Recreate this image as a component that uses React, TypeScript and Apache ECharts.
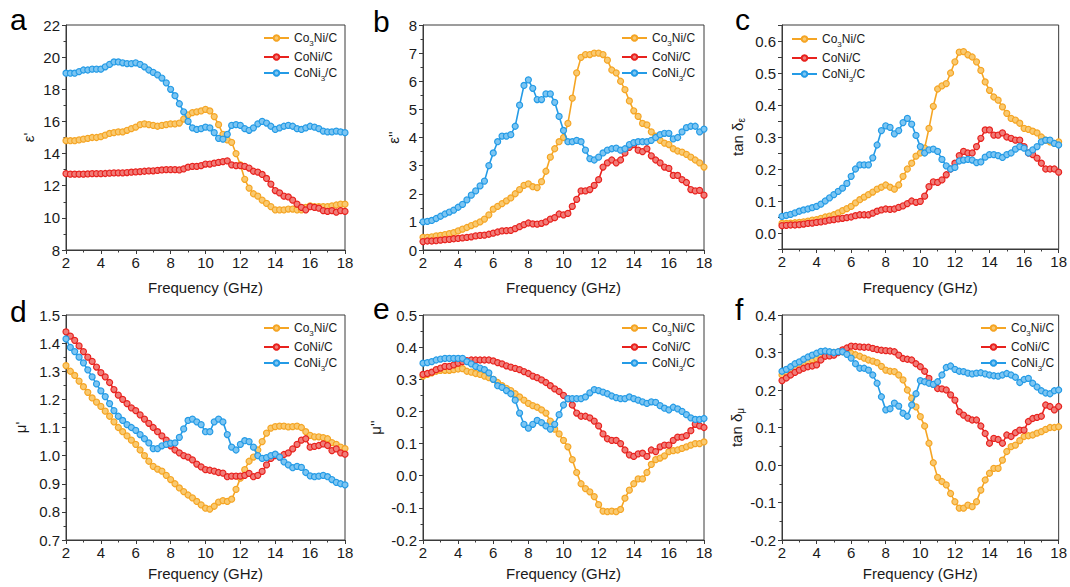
import React, { useEffect, useRef } from 'react';
import * as echarts from 'echarts';

const FREQ = [2, 2.25, 2.5, 2.75, 3, 3.25, 3.5, 3.75, 4, 4.25, 4.5, 4.75, 5, 5.25, 5.5, 5.75, 6, 6.25, 6.5, 6.75, 7, 7.25, 7.5, 7.75, 8, 8.25, 8.5, 8.75, 9, 9.25, 9.5, 9.75, 10, 10.25, 10.5, 10.75, 11, 11.25, 11.5, 11.75, 12, 12.25, 12.5, 12.75, 13, 13.25, 13.5, 13.75, 14, 14.25, 14.5, 14.75, 15, 15.25, 15.5, 15.75, 16, 16.25, 16.5, 16.75, 17, 17.25, 17.5, 17.75, 18];

const SERIES_NAMES = ['Co3Ni/C', 'CoNi/C', 'CoNi3/C'];
const X_TICKS = [2, 18, 2];

// (a) epsilon'
const A_CO3NI = [14.8, 14.8, 14.8, 14.85, 14.9, 14.95, 15.0, 15.0, 15.05, 15.15, 15.25, 15.3, 15.35, 15.35, 15.45, 15.55, 15.65, 15.8, 15.85, 15.8, 15.75, 15.7, 15.75, 15.8, 15.85, 15.85, 15.9, 16.15, 16.4, 16.55, 16.6, 16.65, 16.75, 16.65, 16.3, 15.8, 15.2, 14.85, 14.7, 14.0, 13.3, 12.4, 11.85, 11.5, 11.35, 11.1, 10.9, 10.7, 10.5, 10.5, 10.5, 10.55, 10.55, 10.5, 10.5, 10.65, 10.75, 10.7, 10.7, 10.7, 10.7, 10.75, 10.8, 10.85, 10.85];
const A_CONI = [12.75, 12.72, 12.72, 12.72, 12.72, 12.73, 12.75, 12.75, 12.75, 12.76, 12.78, 12.8, 12.8, 12.8, 12.82, 12.84, 12.86, 12.88, 12.9, 12.92, 12.93, 12.95, 12.98, 13.0, 13.0, 13.0, 12.98, 13.05, 13.15, 13.2, 13.2, 13.25, 13.35, 13.35, 13.4, 13.45, 13.5, 13.55, 13.3, 13.25, 13.25, 13.2, 13.1, 12.9, 12.85, 12.7, 12.45, 12.1, 11.7, 11.55, 11.35, 11.3, 11.1, 10.85, 10.65, 10.5, 10.7, 10.65, 10.6, 10.45, 10.4, 10.45, 10.35, 10.45, 10.4];
const A_CONI3 = [19.0, 19.0, 19.0, 19.1, 19.2, 19.2, 19.25, 19.25, 19.25, 19.4, 19.55, 19.7, 19.7, 19.65, 19.6, 19.6, 19.65, 19.55, 19.4, 19.2, 19.05, 18.9, 18.7, 18.4, 18.0, 17.6, 17.1, 16.6, 16.0, 15.6, 15.5, 15.55, 15.65, 15.6, 15.3, 14.95, 14.9, 15.2, 15.75, 15.8, 15.75, 15.55, 15.45, 15.6, 15.85, 16.0, 15.9, 15.7, 15.5, 15.6, 15.7, 15.75, 15.7, 15.55, 15.5, 15.6, 15.7, 15.65, 15.55, 15.4, 15.35, 15.35, 15.4, 15.35, 15.3];

// (b) epsilon''
const B_CO3NI = [0.45, 0.45, 0.47, 0.5, 0.52, 0.55, 0.58, 0.62, 0.68, 0.74, 0.8, 0.87, 0.93, 1.0, 1.1, 1.25, 1.45, 1.55, 1.65, 1.75, 1.85, 2.0, 2.15, 2.3, 2.35, 2.25, 2.22, 2.43, 2.8, 3.3, 3.6, 3.85, 4.0, 4.5, 5.4, 6.3, 6.85, 6.95, 6.95, 7.0, 7.0, 6.95, 6.75, 6.4, 6.3, 6.0, 5.7, 5.3, 4.95, 4.75, 4.5, 4.45, 4.2, 4.05, 3.9, 3.8, 3.75, 3.6, 3.52, 3.48, 3.4, 3.3, 3.2, 3.1, 2.95];
const B_CONI = [0.3, 0.32, 0.32, 0.33, 0.35, 0.37, 0.38, 0.4, 0.41, 0.43, 0.45, 0.47, 0.5, 0.52, 0.53, 0.56, 0.6, 0.64, 0.68, 0.69, 0.7, 0.76, 0.83, 0.9, 0.96, 0.93, 0.92, 0.95, 1.0, 1.1, 1.15, 1.28, 1.25, 1.3, 1.55, 1.8, 2.1, 2.1, 2.15, 2.3, 2.5, 2.95, 3.1, 3.2, 3.1, 3.2, 3.45, 3.65, 3.75, 3.55, 3.5, 3.6, 3.35, 3.2, 3.1, 2.95, 2.9, 2.65, 2.65, 2.5, 2.4, 2.15, 2.1, 2.12, 1.95];
const B_CONI3 = [1.0, 1.02, 1.05, 1.12, 1.2, 1.28, 1.35, 1.42, 1.52, 1.62, 1.78, 1.95, 2.1, 2.28, 2.45, 3.0, 3.45, 3.85, 4.05, 4.05, 4.1, 4.4, 5.15, 5.85, 6.05, 5.75, 5.35, 5.35, 5.55, 5.55, 5.25, 4.75, 4.25, 3.85, 3.85, 3.9, 3.85, 3.55, 3.25, 3.2, 3.3, 3.45, 3.55, 3.6, 3.62, 3.55, 3.6, 3.75, 3.82, 3.85, 3.85, 3.85, 3.9, 4.0, 4.1, 4.15, 4.15, 3.95, 4.0, 4.2, 4.35, 4.4, 4.4, 4.2, 4.3];

// (c) tan delta_epsilon
const C_CO3NI = [0.03, 0.03, 0.031, 0.032, 0.033, 0.035, 0.037, 0.04, 0.042, 0.046, 0.05, 0.053, 0.057, 0.063, 0.07, 0.076, 0.083, 0.094, 0.104, 0.112, 0.12, 0.128, 0.137, 0.143, 0.15, 0.143, 0.137, 0.15, 0.177, 0.2, 0.218, 0.24, 0.25, 0.265, 0.327, 0.396, 0.45, 0.46, 0.467, 0.5, 0.535, 0.565, 0.567, 0.557, 0.55, 0.535, 0.508, 0.472, 0.446, 0.425, 0.415, 0.394, 0.374, 0.358, 0.353, 0.343, 0.327, 0.324, 0.318, 0.313, 0.3, 0.29, 0.285, 0.28, 0.285];
const C_CONI = [0.023, 0.024, 0.025, 0.025, 0.026, 0.028, 0.03, 0.031, 0.033, 0.035, 0.037, 0.04, 0.042, 0.044, 0.046, 0.048, 0.05, 0.054, 0.057, 0.057, 0.057, 0.062, 0.068, 0.072, 0.075, 0.074, 0.075, 0.08, 0.085, 0.092, 0.1, 0.096, 0.099, 0.115, 0.145, 0.16, 0.158, 0.166, 0.182, 0.2, 0.218, 0.242, 0.255, 0.25, 0.25, 0.27, 0.296, 0.322, 0.322, 0.306, 0.306, 0.313, 0.3, 0.296, 0.29, 0.29, 0.27, 0.25, 0.245, 0.234, 0.218, 0.2, 0.2, 0.2, 0.19];
const C_CONI3 = [0.052, 0.055, 0.058, 0.063, 0.068, 0.072, 0.075, 0.079, 0.083, 0.09, 0.1, 0.11, 0.12, 0.13, 0.14, 0.155, 0.177, 0.2, 0.213, 0.213, 0.213, 0.235, 0.275, 0.32, 0.335, 0.33, 0.31, 0.32, 0.345, 0.358, 0.34, 0.305, 0.27, 0.25, 0.26, 0.262, 0.255, 0.23, 0.21, 0.2, 0.205, 0.225, 0.228, 0.23, 0.228, 0.22, 0.222, 0.237, 0.245, 0.245, 0.242, 0.236, 0.245, 0.25, 0.262, 0.27, 0.265, 0.25, 0.26, 0.27, 0.285, 0.29, 0.29, 0.28, 0.275];

// (d) mu'
const D_CO3NI = [1.32, 1.3, 1.285, 1.265, 1.245, 1.225, 1.205, 1.19, 1.175, 1.158, 1.14, 1.12, 1.1, 1.085, 1.07, 1.055, 1.04, 1.02, 1.0, 0.98, 0.962, 0.952, 0.945, 0.93, 0.915, 0.9, 0.885, 0.872, 0.86, 0.85, 0.837, 0.825, 0.813, 0.81, 0.82, 0.835, 0.84, 0.837, 0.845, 0.88, 0.92, 0.95, 0.98, 0.995, 1.02, 1.05, 1.08, 1.098, 1.103, 1.105, 1.105, 1.102, 1.103, 1.105, 1.1, 1.085, 1.072, 1.067, 1.067, 1.064, 1.06, 1.046, 1.04, 1.03, 1.025];
const D_CONI = [1.44, 1.425, 1.41, 1.39, 1.37, 1.35, 1.335, 1.315, 1.295, 1.28, 1.26, 1.235, 1.215, 1.2, 1.185, 1.17, 1.16, 1.145, 1.13, 1.115, 1.1, 1.085, 1.07, 1.055, 1.035, 1.02, 1.01, 1.0, 0.995, 0.985, 0.97, 0.96, 0.95, 0.948, 0.945, 0.94, 0.938, 0.925, 0.927, 0.927, 0.927, 0.93, 0.937, 0.925, 0.93, 0.944, 0.967, 0.99, 1.0, 0.995, 1.004, 1.01, 1.024, 1.04, 1.055, 1.06, 1.03, 1.033, 1.036, 1.042, 1.036, 1.018, 1.024, 1.01, 1.005];
const D_CONI3 = [1.415, 1.385, 1.37, 1.35, 1.33, 1.305, 1.28, 1.255, 1.23, 1.21, 1.185, 1.16, 1.14, 1.125, 1.11, 1.1, 1.09, 1.075, 1.06, 1.045, 1.025, 1.025, 1.035, 1.04, 1.044, 1.045, 1.065, 1.095, 1.125, 1.13, 1.12, 1.11, 1.085, 1.085, 1.12, 1.13, 1.12, 1.075, 1.03, 1.02, 1.04, 1.053, 1.05, 1.03, 1.0, 0.99, 0.993, 1.0, 1.005, 0.995, 0.978, 0.967, 0.957, 0.962, 0.958, 0.94, 0.928, 0.925, 0.927, 0.93, 0.925, 0.915, 0.905, 0.9, 0.896];

// (e) mu''
const E_CO3NI = [0.31, 0.315, 0.32, 0.325, 0.328, 0.328, 0.328, 0.33, 0.332, 0.333, 0.325, 0.322, 0.318, 0.315, 0.31, 0.305, 0.3, 0.29, 0.28, 0.272, 0.265, 0.255, 0.245, 0.235, 0.225, 0.218, 0.213, 0.205, 0.195, 0.17, 0.145, 0.13, 0.11, 0.09, 0.05, 0.01, -0.025, -0.04, -0.05, -0.065, -0.09, -0.11, -0.112, -0.11, -0.112, -0.105, -0.07, -0.045, -0.025, -0.01, -0.01, 0.01, 0.035, 0.05, 0.055, 0.062, 0.075, 0.078, 0.08, 0.085, 0.09, 0.095, 0.1, 0.1, 0.105];
const E_CONI = [0.315, 0.318, 0.322, 0.33, 0.335, 0.34, 0.34, 0.345, 0.35, 0.355, 0.358, 0.36, 0.36, 0.36, 0.36, 0.36, 0.357, 0.352, 0.348, 0.342, 0.338, 0.334, 0.33, 0.324, 0.318, 0.31, 0.305, 0.298, 0.29, 0.28, 0.27, 0.262, 0.25, 0.24, 0.22, 0.195, 0.185, 0.185, 0.18, 0.17, 0.155, 0.13, 0.115, 0.11, 0.11, 0.1, 0.08, 0.065, 0.06, 0.068, 0.07, 0.06, 0.08, 0.075, 0.09, 0.095, 0.095, 0.11, 0.12, 0.12, 0.125, 0.14, 0.16, 0.155, 0.15];
const E_CONI3 = [0.35, 0.352, 0.355, 0.36, 0.363, 0.365, 0.365, 0.365, 0.365, 0.365, 0.355, 0.348, 0.34, 0.335, 0.33, 0.32, 0.3, 0.28, 0.275, 0.265, 0.255, 0.235, 0.195, 0.16, 0.148, 0.16, 0.172, 0.165, 0.155, 0.145, 0.16, 0.19, 0.22, 0.24, 0.24, 0.24, 0.24, 0.245, 0.258, 0.268, 0.265, 0.26, 0.255, 0.248, 0.243, 0.24, 0.24, 0.245, 0.24, 0.235, 0.23, 0.225, 0.23, 0.228, 0.218, 0.21, 0.205, 0.213, 0.208, 0.2, 0.19, 0.18, 0.175, 0.175, 0.178];

// (f) tan delta_mu
const F_CO3NI = [0.24, 0.247, 0.254, 0.26, 0.267, 0.272, 0.276, 0.28, 0.284, 0.289, 0.293, 0.297, 0.3, 0.301, 0.302, 0.3, 0.298, 0.294, 0.29, 0.285, 0.28, 0.277, 0.273, 0.263, 0.253, 0.25, 0.249, 0.24, 0.227, 0.2, 0.178, 0.155, 0.129, 0.104, 0.058, 0.006, -0.033, -0.044, -0.053, -0.076, -0.098, -0.115, -0.115, -0.107, -0.111, -0.098, -0.067, -0.04, -0.022, -0.009, -0.009, 0.013, 0.036, 0.049, 0.053, 0.065, 0.076, 0.078, 0.08, 0.085, 0.089, 0.095, 0.1, 0.1, 0.102];
const F_CONI = [0.225, 0.232, 0.24, 0.247, 0.253, 0.258, 0.262, 0.264, 0.267, 0.28, 0.29, 0.291, 0.293, 0.3, 0.307, 0.312, 0.317, 0.316, 0.315, 0.314, 0.314, 0.311, 0.308, 0.306, 0.305, 0.304, 0.302, 0.293, 0.284, 0.282, 0.28, 0.27, 0.262, 0.25, 0.231, 0.215, 0.204, 0.203, 0.2, 0.187, 0.173, 0.142, 0.133, 0.125, 0.12, 0.12, 0.104, 0.084, 0.058, 0.071, 0.068, 0.058, 0.08, 0.076, 0.086, 0.093, 0.093, 0.116, 0.124, 0.127, 0.13, 0.16, 0.156, 0.147, 0.156];
const F_CONI3 = [0.25, 0.255, 0.262, 0.27, 0.275, 0.282, 0.288, 0.293, 0.298, 0.303, 0.304, 0.302, 0.3, 0.302, 0.302, 0.295, 0.285, 0.27, 0.258, 0.258, 0.253, 0.24, 0.218, 0.182, 0.147, 0.15, 0.165, 0.157, 0.138, 0.13, 0.16, 0.19, 0.225, 0.222, 0.218, 0.215, 0.222, 0.24, 0.26, 0.264, 0.255, 0.25, 0.249, 0.245, 0.243, 0.245, 0.246, 0.243, 0.24, 0.238, 0.237, 0.24, 0.244, 0.24, 0.234, 0.22, 0.228, 0.231, 0.218, 0.208, 0.198, 0.192, 0.19, 0.198, 0.2];

// y-axis ranges [min, max, interval]
const Y_A = [8, 22, 2];
const Y_B = [0, 8, 1];
const Y_C = [-0.05, 0.65, 0.05];
const Y_D = [0.7, 1.5, 0.1];
const Y_E = [-0.2, 0.5, 0.1];
const Y_F = [-0.2, 0.4, 0.1];

const FONT = '"Liberation Sans", Arial, Helvetica, sans-serif';
const LINE_COLORS = ['#F5A524', '#E8221E', '#249BE6'];
const FILL_COLORS = ['#F9C970', '#F07C78', '#7CC5F2'];

type Panel = {
  letter: string;
  grid: { left: number; top: number; width: number; height: number };
  y: number[];
  yName: string;
  yNameGap: number;
  xNameGap: number;
  data: number[][];
  legend: { left: number; top: number };
  letterPos: { left: number; top: number };
  fmt: (v: number) => string;
  minor: boolean;
};

const fix1 = (v: number) => v.toFixed(1);
const int0 = (v: number) => String(Math.round(v));
const everyOther = (v: number) => {
  const k = Math.round(v * 100);
  return k % 10 === 0 ? (k / 100).toFixed(1) : '';
};

const PANELS: Panel[] = [
  { letter: 'a', grid: { left: 66, top: 25, width: 279, height: 225 }, y: Y_A, yName: "ε'", yNameGap: 30, xNameGap: 30, data: [A_CO3NI, A_CONI, A_CONI3], legend: { left: 263, top: 32 }, letterPos: { left: 10, top: 4 }, fmt: int0, minor: true },
  { letter: 'b', grid: { left: 423, top: 25, width: 281, height: 225 }, y: Y_B, yName: "ε''", yNameGap: 22, xNameGap: 30, data: [B_CO3NI, B_CONI, B_CONI3], legend: { left: 621, top: 32 }, letterPos: { left: 373, top: 6 }, fmt: int0, minor: true },
  { letter: 'c', grid: { left: 782, top: 25, width: 280, height: 224 }, y: Y_C, yName: '{t|tan δ}{s|ε}', yNameGap: 36, xNameGap: 31, data: [C_CO3NI, C_CONI, C_CONI3], legend: { left: 791, top: 33 }, letterPos: { left: 735, top: 4 }, fmt: everyOther, minor: false },
  { letter: 'd', grid: { left: 66, top: 315, width: 279, height: 225 }, y: Y_D, yName: "μ'", yNameGap: 38, xNameGap: 26, data: [D_CO3NI, D_CONI, D_CONI3], legend: { left: 263, top: 322 }, letterPos: { left: 10, top: 296 }, fmt: fix1, minor: true },
  { letter: 'e', grid: { left: 423, top: 315, width: 281, height: 225 }, y: Y_E, yName: "μ''", yNameGap: 40, xNameGap: 26, data: [E_CO3NI, E_CONI, E_CONI3], legend: { left: 621, top: 322 }, letterPos: { left: 373, top: 293 }, fmt: fix1, minor: true },
  { letter: 'f', grid: { left: 782, top: 315, width: 280, height: 225 }, y: Y_F, yName: '{t|tan δ}{s|μ}', yNameGap: 37, xNameGap: 26, data: [F_CO3NI, F_CONI, F_CONI3], legend: { left: 980, top: 322 }, letterPos: { left: 735, top: 294 }, fmt: fix1, minor: true },
];

const legendFormatter = (name: string) => {
  if (name === 'Co3Ni/C') return '{t|Co}{s|3}{t|Ni/C}';
  if (name === 'CoNi3/C') return '{t|CoNi}{s|3}{t|/C}';
  return '{t|' + name + '}';
};

const AXIS_COLOR = '#3a3a3a';
const TEXT_COLOR = '#1a1a1a';

function buildOption() {
  const grid = PANELS.map((p) => ({
    ...p.grid,
    show: true,
    borderColor: AXIS_COLOR,
    borderWidth: 1,
    backgroundColor: 'transparent',
    containLabel: false,
  }));

  const xAxis = PANELS.map((p, i) => ({
    type: 'value',
    gridIndex: i,
    min: X_TICKS[0],
    max: X_TICKS[1],
    interval: X_TICKS[2],
    name: 'Frequency (GHz)',
    nameLocation: 'middle',
    nameGap: p.xNameGap,
    nameTextStyle: { fontSize: 15, color: TEXT_COLOR, fontFamily: FONT },
    axisLine: { show: true, onZero: false, lineStyle: { color: AXIS_COLOR, width: 1 } },
    axisTick: { show: true, length: 4, lineStyle: { color: AXIS_COLOR } },
    minorTick: { show: true, splitNumber: 2, length: 2.5, lineStyle: { color: AXIS_COLOR } },
    splitLine: { show: false },
    minorSplitLine: { show: false },
    axisLabel: { fontSize: 15, color: TEXT_COLOR, margin: 5, fontFamily: FONT },
  }));

  const yAxis = PANELS.map((p, i) => ({
    type: 'value',
    gridIndex: i,
    min: p.y[0],
    max: p.y[1],
    interval: p.y[2],
    name: p.yName,
    nameLocation: 'middle',
    nameGap: p.yNameGap,
    nameTextStyle: {
      fontSize: 15,
      color: TEXT_COLOR,
      fontFamily: FONT,
      rich: {
        t: { fontSize: 15, color: TEXT_COLOR, fontFamily: FONT, lineHeight: 17 },
        s: { fontSize: 10, color: TEXT_COLOR, fontFamily: FONT, lineHeight: 10, verticalAlign: 'bottom' },
      },
    },
    axisLine: { show: true, onZero: false, lineStyle: { color: AXIS_COLOR, width: 1 } },
    axisTick: { show: true, length: 4, lineStyle: { color: AXIS_COLOR } },
    minorTick: { show: p.minor, splitNumber: 2, length: 2.5, lineStyle: { color: AXIS_COLOR } },
    splitLine: { show: false },
    minorSplitLine: { show: false },
    axisLabel: { fontSize: 15, color: TEXT_COLOR, margin: 6, fontFamily: FONT, formatter: p.fmt },
  }));

  const series: any[] = [];
  PANELS.forEach((p, i) => {
    p.data.forEach((vals, s) => {
      series.push({
        type: 'line',
        name: SERIES_NAMES[s],
        xAxisIndex: i,
        yAxisIndex: i,
        data: FREQ.map((f, k) => [f, vals[k]]),
        symbol: 'circle',
        symbolSize: 6,
        showSymbol: true,
        lineStyle: { color: LINE_COLORS[s], width: 1.6 },
        itemStyle: { color: FILL_COLORS[s], borderColor: LINE_COLORS[s], borderWidth: 1.2 },
        emphasis: { disabled: true },
        z: 2 + s,
      });
    });
  });

  const legend = PANELS.map((p) => ({
    show: true,
    orient: 'vertical',
    left: p.legend.left,
    top: p.legend.top,
    itemWidth: 25,
    itemHeight: 7,
    itemGap: 4,
    padding: 0,
    data: SERIES_NAMES,
    selectedMode: false,
    formatter: legendFormatter,
    textStyle: {
      color: TEXT_COLOR,
      fontFamily: FONT,
      fontSize: 12,
      rich: {
        t: { fontSize: 12, color: TEXT_COLOR, fontFamily: FONT, lineHeight: 12 },
        s: { fontSize: 8, color: TEXT_COLOR, fontFamily: FONT, lineHeight: 8, verticalAlign: 'bottom', padding: [0, 0, -3, 0] },
      },
    },
  }));

  const graphic = PANELS.map((p) => ({
    type: 'text',
    left: p.letterPos.left,
    top: p.letterPos.top,
    style: { text: p.letter, font: '30px ' + FONT, fill: '#000' },
  }));

  return {
    animation: false,
    backgroundColor: '#ffffff',
    textStyle: { fontFamily: FONT },
    grid,
    xAxis,
    yAxis,
    legend,
    series,
    graphic,
  };
}

export default function App() {
  const ref = useRef<HTMLDivElement>(null);
  useEffect(() => {
    if (!ref.current) return;
    const chart = echarts.init(ref.current, undefined, { renderer: 'svg' });
    chart.setOption(buildOption() as any);
    return () => chart.dispose();
  }, []);
  return (
    <div
      ref={ref}
      style={{ position: 'fixed', left: 0, top: 0, width: 1070, height: 587, background: '#fff' }}
    />
  );
}
